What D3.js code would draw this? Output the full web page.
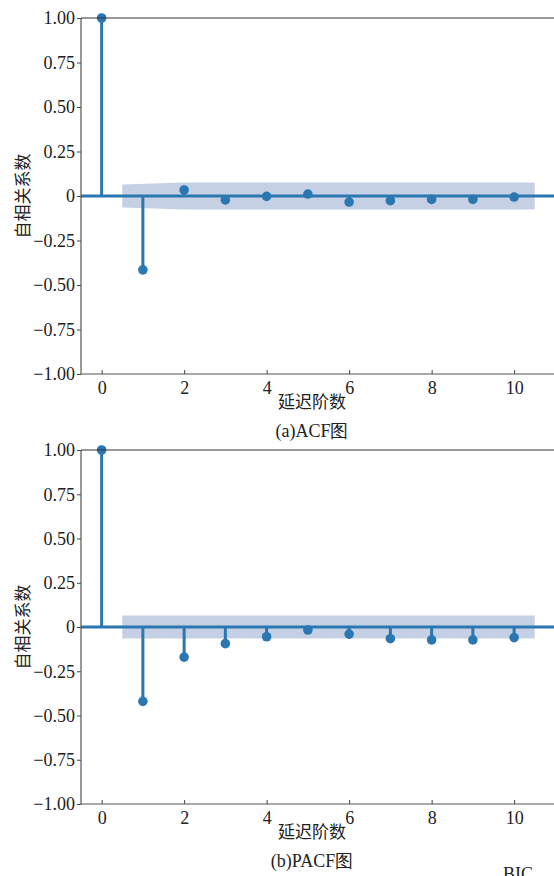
<html>
<head>
<meta charset="utf-8">
<style>
  body { margin: 0; background: white; }
</style>
</head>
<body>
<svg id="chart" width="554" height="876"></svg>

<script src="https://d3js.org/d3.v7.min.js"></script>
<script>
// chart data
var lags = [0, 1, 2, 3, 4, 5, 6, 7, 8, 9, 10];
var acfVals = [1, -0.415, 0.034, -0.022, -0.002, 0.011, -0.034, -0.026, -0.019, -0.019, -0.006];
var pacfVals = [1, -0.42, -0.17, -0.094, -0.055, -0.017, -0.04, -0.066, -0.073, -0.073, -0.06];
// confidence half-widths for lags 1..10
var acfBand = [0.065, 0.076, 0.076, 0.076, 0.076, 0.076, 0.076, 0.076, 0.076, 0.076];
var pacfBand = [0.065, 0.065, 0.065, 0.065, 0.065, 0.065, 0.065, 0.065, 0.065, 0.065];
var yTicks = [1, 0.75, 0.5, 0.25, 0, -0.25, -0.5, -0.75, -1];
var yTickLabels = ["1.00", "0.75", "0.50", "0.25", "0", "\u22120.25", "\u22120.50", "\u22120.75", "\u22121.00"];
var xTicks = [0, 2, 4, 6, 8, 10];
var yLabel = "自相关系数";
var xLabel = "延迟阶数";

var SERIF = '"Liberation Serif", "Times New Roman", serif';
var CJK = '"Noto Sans CJK SC", sans-serif';

var svg = d3.select('#chart');
var blue = '#2a77b1';

var x = d3.scaleLinear().domain([-0.5, 11.5]).range([81, 576]);

function styleNum(sel) {
  sel.attr('font-family', null).attr('font-size', null)
    .style('font-family', SERIF).style('font-size', '18px').style('fill', '#222');
}

function panel(top, bottom, vals, band, caption) {
  var y = d3.scaleLinear().domain([-1, 1]).range([bottom, top]);
  var g = svg.append('g');

  // confidence band: first lag shifted left 0.5, last right 0.5
  var bandPts = band.map(function(w, i) {
    var l = lags[i + 1];
    if (i === 0) l -= 0.5;
    if (i === band.length - 1) l += 0.5;
    return {lag: l, w: w};
  });
  g.append('path')
    .datum(bandPts)
    .attr('fill', '#c6d0e4')
    .attr('d', d3.area().x(d => x(d.lag)).y0(d => y(-d.w)).y1(d => y(d.w)));

  // stems
  g.selectAll('line.stem')
    .data(lags)
    .enter()
    .append('line')
    .attr('class', 'stem')
    .attr('x1', d => x(d)).attr('x2', d => x(d))
    .attr('y1', y(0)).attr('y2', d => y(vals[d]))
    .attr('stroke', blue).attr('stroke-width', 3);

  // zero line
  g.append('line')
    .attr('x1', x.range()[0]).attr('x2', 554)
    .attr('y1', y(0)).attr('y2', y(0))
    .attr('stroke', blue).attr('stroke-width', 3);

  // markers
  g.selectAll('circle')
    .data(lags)
    .enter()
    .append('circle')
    .attr('cx', d => x(d))
    .attr('cy', d => y(vals[d]))
    .attr('r', 4.8)
    .attr('fill', blue);

  // axes
  var yAxis = d3.axisLeft(y).tickValues(yTicks).tickSize(4).tickPadding(2)
    .tickFormat((d, i) => yTickLabels[i]);
  var ga = g.append('g').attr('transform', 'translate(81,0)').call(yAxis);
  ga.select('.domain').remove();
  ga.call(styleNum).selectAll('text').call(styleNum);
  ga.selectAll('line').attr('stroke', '#444');

  var xAxis = d3.axisBottom(x).tickValues(xTicks).tickSize(-4).tickPadding(7);
  var gx = g.append('g').attr('transform', 'translate(0,' + bottom + ')').call(xAxis);
  gx.select('.domain').remove();
  gx.call(styleNum).selectAll('text').call(styleNum);
  gx.selectAll('line').attr('stroke', '#444');

  // spines
  g.append('line').attr('x1', 81).attr('x2', 81).attr('y1', top).attr('y2', bottom)
    .attr('stroke', '#555').attr('stroke-width', 1.2);
  g.append('line').attr('x1', 81).attr('x2', 554).attr('y1', bottom).attr('y2', bottom)
    .attr('stroke', '#555').attr('stroke-width', 1.2);
  g.append('line').attr('x1', 81).attr('x2', 554).attr('y1', top).attr('y2', top)
    .attr('stroke', '#333').attr('stroke-width', 1);

  // labels
  var mid = (top + bottom) / 2;
  g.append('text')
    .attr('transform', 'translate(29,' + mid + ') rotate(-90)')
    .attr('text-anchor', 'middle')
    .style('font-family', CJK).style('font-size', '17px').style('fill', '#222')
    .text(yLabel);
  g.append('text')
    .attr('x', 312).attr('y', bottom + 34)
    .attr('text-anchor', 'middle')
    .style('font-family', CJK).style('font-size', '17px').style('fill', '#222')
    .text(xLabel);
  g.append('text')
    .attr('x', 312).attr('y', bottom + 63)
    .attr('text-anchor', 'middle')
    .call(styleNum)
    .text(caption);
}

panel(18, 374, acfVals, acfBand, '(a)ACF图');
panel(450, 804, pacfVals, pacfBand, '(b)PACF图');

// partial text cut at the bottom edge, as in the source figure
svg.append('text')
  .attr('x', 503).attr('y', 880)
  .call(styleNum)
  .text('BIC');
</script>
</body>
</html>
